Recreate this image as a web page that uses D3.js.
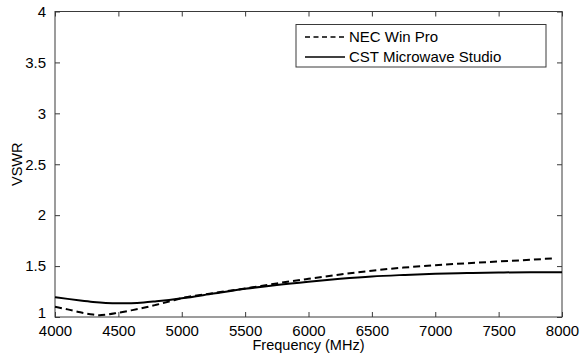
<!DOCTYPE html>
<html><head><meta charset="utf-8">
<script src="https://cdn.jsdelivr.net/npm/d3@7"></script>
<style>
body{margin:0;background:#fff;}
svg{display:block;font-family:"Liberation Sans",Arial,sans-serif;}
</style></head>
<body><svg id="c" width="580" height="360"></svg>
<script>
const xTicks = [4000,4500,5000,5500,6000,6500,7000,7500,8000];
const yTicks = [1,1.5,2,2.5,3,3.5,4];
const yTickLabels = ["1","1.5","2","2.5","3","3.5","4"];
const seriesNames = ["NEC Win Pro","CST Microwave Studio"];

const necFreq = [4000,4100,4200,4300,4350,4400,4500,4600,4700,4800,4900,5000,5250,5500,5750,6000,6250,6500,6750,7000,7250,7500,7750,7920];
const necVswr = [1.100,1.075,1.046,1.024,1.018,1.022,1.042,1.065,1.090,1.120,1.152,1.185,1.235,1.280,1.330,1.375,1.418,1.455,1.485,1.508,1.528,1.545,1.562,1.575];

const cstFreq = [4000,4100,4200,4300,4400,4500,4600,4700,4800,4900,5000,5250,5500,5750,6000,6250,6500,6750,7000,7250,7500,7750,8000];
const cstVswr = [1.195,1.178,1.162,1.148,1.138,1.134,1.136,1.143,1.155,1.168,1.183,1.230,1.277,1.315,1.347,1.375,1.398,1.413,1.425,1.432,1.437,1.440,1.440];

const L=55, R=562, T=11.5, B=317;
const svg = d3.select("#c");
const x = d3.scaleLinear().domain([4000,8000]).range([L,R]);
const y = d3.scaleLinear().domain([1,4]).range([B,T]);
const axisColor = "#3a3a3a";

svg.append("rect").attr("x",L).attr("y",T).attr("width",R-L).attr("height",B-T)
  .attr("fill","none").attr("stroke",axisColor).attr("stroke-width",1);

function styleAxis(g, showText){
  g.select(".domain").remove();
  g.selectAll(".tick line").attr("stroke",axisColor).attr("stroke-width",1);
  g.selectAll(".tick text").attr("fill","#000").style("font-size","15px");
  if(!showText) g.selectAll(".tick text").remove();
}
const gBottom = svg.append("g").attr("transform",`translate(0,${B})`)
  .call(d3.axisBottom(x).tickValues(xTicks).tickSizeInner(-5).tickSizeOuter(0).tickPadding(8).tickFormat(d3.format("d")));
styleAxis(gBottom,true);
const gTop = svg.append("g").attr("transform",`translate(0,${T})`)
  .call(d3.axisTop(x).tickValues(xTicks).tickSizeInner(-5).tickSizeOuter(0));
styleAxis(gTop,false);
const gLeft = svg.append("g").attr("transform",`translate(${L},0)`)
  .call(d3.axisLeft(y).tickValues(yTicks).tickSizeInner(-5).tickSizeOuter(0).tickPadding(9)
    .tickFormat((d,i)=>yTickLabels[i]));
styleAxis(gLeft,true);
gLeft.selectAll(".tick text").filter(d=>d===1).attr("dy","0.05em");
const gRight = svg.append("g").attr("transform",`translate(${R},0)`)
  .call(d3.axisRight(y).tickValues(yTicks).tickSizeInner(-5).tickSizeOuter(0));
styleAxis(gRight,false);

svg.append("text").attr("x",(L+R)/2).attr("y",350).attr("text-anchor","middle")
  .style("font-size","14.5px").attr("fill","#000").text("Frequency (MHz)");
svg.append("text").attr("transform",`translate(22,${(T+B)/2}) rotate(-90)`).attr("text-anchor","middle")
  .style("font-size","14.5px").attr("fill","#000").text("VSWR");

const line = d3.line().x(d=>x(d[0])).y(d=>y(d[1])).curve(d3.curveMonotoneX);
const nec = necFreq.map((f,i)=>[f,necVswr[i]]);
const cst = cstFreq.map((f,i)=>[f,cstVswr[i]]);

svg.append("path").datum(cst).attr("d",line).attr("fill","none")
  .attr("stroke","#000").attr("stroke-width",2);
svg.append("path").datum(nec).attr("d",line).attr("fill","none")
  .attr("stroke","#000").attr("stroke-width",2).attr("stroke-dasharray","7,4");

const lg = svg.append("g");
lg.append("rect").attr("x",296).attr("y",24.5).attr("width",250).attr("height",42.5)
  .attr("fill","#fff").attr("stroke",axisColor).attr("stroke-width",1);
const rows = [{name:seriesNames[0],dash:"7,4",cy:37},{name:seriesNames[1],dash:null,cy:57}];
rows.forEach(r=>{
  const ln = lg.append("line").attr("x1",305).attr("x2",345).attr("y1",r.cy).attr("y2",r.cy)
    .attr("stroke","#000").attr("stroke-width",1.6);
  if(r.dash) ln.attr("stroke-dasharray","5,3.5");
  lg.append("text").attr("x",349).attr("y",r.cy).attr("dy","0.35em")
    .style("font-size","15px").attr("fill","#000").text(r.name);
});
</script></body></html>
